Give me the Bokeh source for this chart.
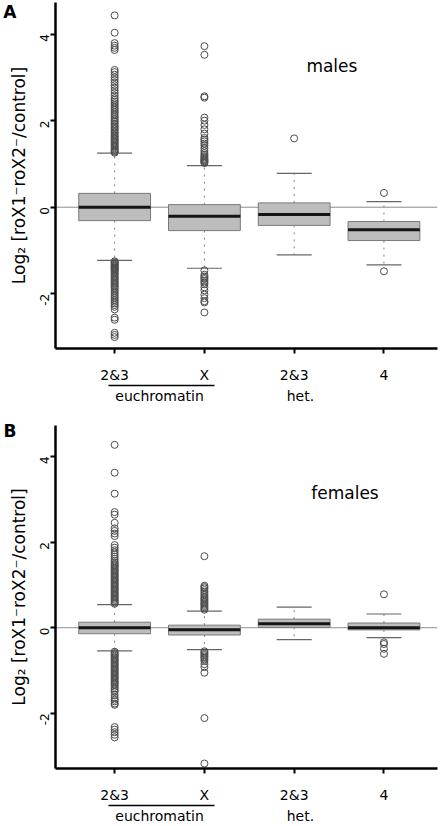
import numpy as np
from bokeh.plotting import figure
from bokeh.models import FixedTicker, Span, Label, Range1d, LinearAxis
from bokeh.layouts import column
from bokeh.embed import file_html
from bokeh.resources import INLINE

# ---------------- data ----------------
categories = ["2&3", "X", "2&3", "4"]
cat_pos = [1, 2, 3, 4]
group_labels = ["euchromatin", "het."]
group_pos = [1.5, 3.07]
y_title = "Log\u2082 [roX1\u207broX2\u207b/control]"

# males (panel A)
males_q1 = [-0.31, -0.54, -0.42, -0.77]
males_median = [0.00, -0.21, -0.17, -0.52]
males_q3 = [0.32, 0.06, 0.10, -0.33]
males_lower = [-1.23, -1.41, -1.10, -1.33]
males_upper = [1.25, 0.96, 0.78, 0.13]
males_out_eu23 = [1.26, 1.28, 1.30, 1.33, 1.36, 1.39, 1.42, 1.45, 1.48, 1.51, 1.54, 1.57,
                  1.60, 1.63, 1.66, 1.70, 1.73, 1.76, 1.80, 1.83, 1.86, 1.90, 1.93, 1.97,
                  2.00, 2.04, 2.08, 2.12, 2.16, 2.20, 2.24, 2.28, 2.32, 2.36, 2.40, 2.44,
                  2.48, 2.52, 2.58, 2.64, 2.70, 2.76, 2.82, 2.88, 2.94, 3.00, 3.06, 3.12,
                  3.17, 3.63, 3.68, 3.73, 3.79, 4.03, 4.43,
                  -1.25, -1.27, -1.29, -1.31, -1.33, -1.35, -1.37, -1.39, -1.41, -1.43,
                  -1.45, -1.47, -1.50, -1.53, -1.56, -1.59, -1.62, -1.65, -1.68, -1.71,
                  -1.74, -1.77, -1.80, -1.83, -1.86, -1.90, -1.94, -1.98, -2.02, -2.06,
                  -2.10, -2.14, -2.18, -2.22, -2.26, -2.30, -2.36, -2.55, -2.60, -2.90,
                  -2.95, -3.00]
males_out_x = [1.02, 1.04, 1.06, 1.08, 1.10, 1.12, 1.15, 1.18, 1.21, 1.25, 1.30, 1.36,
               1.42, 1.47, 1.52, 1.56, 1.60, 1.70, 1.80, 1.90, 2.00, 2.07, 2.53, 2.56,
               3.52, 3.72,
               -1.46, -1.56, -1.60, -1.63, -1.66, -1.70, -1.74, -1.78, -1.85, -1.92,
               -2.02, -2.10, -2.17, -2.20, -2.43]
males_out_het23 = [1.59]
males_out_4 = [0.33, -1.48]

# females (panel B)
females_q1 = [-0.14, -0.17, 0.01, -0.05]
females_median = [0.00, -0.05, 0.09, 0.00]
females_q3 = [0.13, 0.06, 0.20, 0.11]
females_lower = [-0.54, -0.51, -0.28, -0.23]
females_upper = [0.54, 0.39, 0.48, 0.32]
females_out_eu23 = [0.56, 0.59, 0.62, 0.65, 0.68, 0.71, 0.74, 0.77, 0.80, 0.83, 0.86, 0.89,
                    0.92, 0.95, 0.98, 1.01, 1.04, 1.07, 1.10, 1.13, 1.16, 1.19, 1.22, 1.25,
                    1.28, 1.31, 1.34, 1.37, 1.40, 1.43, 1.46, 1.49, 1.52, 1.56, 1.61, 1.66,
                    1.71, 1.76, 1.81, 1.87, 1.93, 2.14, 2.20, 2.26, 2.32, 2.45, 2.64, 2.70,
                    3.13, 3.62, 4.27,
                    -0.56, -0.59, -0.62, -0.65, -0.68, -0.71, -0.74, -0.77, -0.80, -0.83,
                    -0.86, -0.89, -0.92, -0.95, -0.98, -1.01, -1.04, -1.07, -1.10, -1.13,
                    -1.16, -1.19, -1.22, -1.25, -1.28, -1.31, -1.34, -1.38, -1.42, -1.46,
                    -1.50, -1.57, -1.63, -1.68, -1.72, -1.77, -1.80, -2.32, -2.38, -2.44,
                    -2.50, -2.56]
females_out_x = [0.42, 0.45, 0.48, 0.51, 0.54, 0.57, 0.60, 0.63, 0.66, 0.69, 0.72, 0.76,
                 0.80, 0.84, 0.88, 0.92, 0.95, 0.98, 1.67,
                 -0.55, -0.58, -0.61, -0.64, -0.67, -0.70, -0.74, -0.78, -0.85, -0.92,
                 -1.05, -2.11, -3.17]
females_out_het23 = []
females_out_4 = [0.78, -0.34, -0.38, -0.49, -0.61]

y_ticks = [-2, 0, 2, 4]
y_tick_labels = ["-2", "0", "2", "4"]

FONT = "DejaVu Sans"
W = 442
BORDER_L = 54
BORDER_R = 5
FRAME_W = W - BORDER_L - BORDER_R
X_RANGE = (0.341, 0.341 + FRAME_W / 90.0)


def make_panel(letter, letter_y, sex, q1, med, q3, lo, hi, outliers, y_range, height,
               border_top, frame_h, sex_pos):
    border_bottom = height - border_top - frame_h
    p = figure(width=W, height=height, output_backend="svg", toolbar_location=None,
               x_range=Range1d(*X_RANGE), y_range=Range1d(*y_range),
               min_border_left=BORDER_L, min_border_right=BORDER_R,
               min_border_top=border_top, min_border_bottom=border_bottom, title=None)
    p.outline_line_color = None
    p.xgrid.visible = False
    p.ygrid.visible = False
    p.background_fill_color = "white"
    p.border_fill_color = "white"

    # zero line
    p.add_layout(Span(location=0, dimension="width", line_color="#8c8c8c",
                      line_width=1, level="underlay"))

    half_box = 0.4
    half_cap = 0.195
    # whiskers
    p.segment(x0=cat_pos, x1=cat_pos, y0=q3, y1=hi, line_color="#808080",
              line_width=1, line_dash="2 5")
    p.segment(x0=cat_pos, x1=cat_pos, y0=q1, y1=lo, line_color="#808080",
              line_width=1, line_dash="2 5")
    # caps
    p.segment(x0=[c - half_cap for c in cat_pos], x1=[c + half_cap for c in cat_pos],
              y0=hi, y1=hi, line_color="#666666", line_width=1.2)
    p.segment(x0=[c - half_cap for c in cat_pos], x1=[c + half_cap for c in cat_pos],
              y0=lo, y1=lo, line_color="#666666", line_width=1.2)
    # boxes
    p.vbar(x=cat_pos, width=2 * half_box, bottom=q1, top=q3, fill_color="#bdbdbd",
           line_color="#7a7a7a", line_width=1)
    # medians
    p.segment(x0=[c - half_box for c in cat_pos], x1=[c + half_box for c in cat_pos],
              y0=med, y1=med, line_color="#151515", line_width=3)
    # outliers
    ox, oy = [], []
    for c, vals in zip(cat_pos, outliers):
        ox += [c] * len(vals)
        oy += list(vals)
    p.scatter(x=ox, y=oy, marker="circle", size=7, fill_color=None,
              line_color="#4d4d4d", line_width=1)

    # axes
    for ax in (p.xaxis[0], p.yaxis[0]):
        ax.axis_line_width = 2.5
        ax.axis_line_color = "black"
        ax.major_tick_line_width = 2
        ax.major_tick_line_color = "black"
        ax.major_tick_out = 5
        ax.major_tick_in = 0
        ax.minor_tick_line_color = None
        ax.major_label_text_font = FONT
        ax.major_label_text_color = "black"
    ya = p.yaxis[0]
    ya.ticker = FixedTicker(ticks=y_ticks)
    ya.major_label_overrides = {t: s for t, s in zip(y_ticks, y_tick_labels)}
    ya.major_label_orientation = np.pi / 2
    ya.major_label_text_font_size = "12px"
    ya.major_label_standoff = 6
    ya.axis_label = y_title
    ya.axis_label_text_font = FONT
    ya.axis_label_text_font_size = "17px"
    ya.axis_label_text_font_style = "normal"
    ya.axis_label_text_color = "black"
    ya.axis_label_standoff = 4

    xa = p.xaxis[0]
    xa.ticker = FixedTicker(ticks=cat_pos)
    xa.major_label_overrides = {c: t for c, t in zip(cat_pos, categories)}
    xa.major_label_text_font_size = "14px"
    xa.major_label_standoff = 13

    # panel letter, as the single label of an extra (invisible) left axis
    let_ax = LinearAxis(ticker=FixedTicker(ticks=[letter_y]),
                        major_label_overrides={letter_y: letter},
                        axis_line_color=None, major_tick_line_color=None,
                        minor_tick_line_color=None, major_tick_out=0,
                        major_label_orientation="horizontal", major_label_text_font=FONT,
                        major_label_text_font_size="17px", major_label_text_font_style="bold",
                        major_label_text_color="black", major_label_standoff=-11)
    p.add_layout(let_ax, "left")

    # underline under the euchromatin categories (an axis line limited by bounds)
    under = LinearAxis(ticker=FixedTicker(ticks=[]), bounds=(cat_pos[0] - 0.07, cat_pos[1] + 0.11),
                       axis_line_color="black", axis_line_width=1.5,
                       major_tick_line_color=None, minor_tick_line_color=None,
                       major_label_text_font_size="0px", major_label_standoff=0)
    p.add_layout(under, "below")
    # group labels row
    grp = LinearAxis(ticker=FixedTicker(ticks=group_pos),
                     major_label_overrides={g: t for g, t in zip(group_pos, group_labels)},
                     axis_line_color=None, major_tick_line_color=None,
                     minor_tick_line_color=None, major_label_text_font=FONT,
                     major_label_text_font_size="14px", major_label_text_color="black",
                     major_label_standoff=-4)
    p.add_layout(grp, "below")

    # sex label
    p.add_layout(Label(x=sex_pos[0], y=sex_pos[1], text=sex, text_font=FONT,
                       text_font_size="17px", text_align="center", text_baseline="middle",
                       text_color="black"))
    return p


pA = make_panel("A", 4.52, "males", males_q1, males_median, males_q3, males_lower,
                males_upper,
                [males_out_eu23, males_out_x, males_out_het23, males_out_4],
                (-3.263, 4.728), 413, 2, 346, (3.42, 3.27))
pB = make_panel("B", 4.6, "females", females_q1, females_median, females_q3, females_lower,
                females_upper,
                [females_out_eu23, females_out_x, females_out_het23, females_out_4],
                (-3.287, 4.722), 413, 12, 346, (3.566, 3.15))

layout = column(pA, pB, spacing=0)
open("out.html", "w").write(file_html(layout, INLINE))
